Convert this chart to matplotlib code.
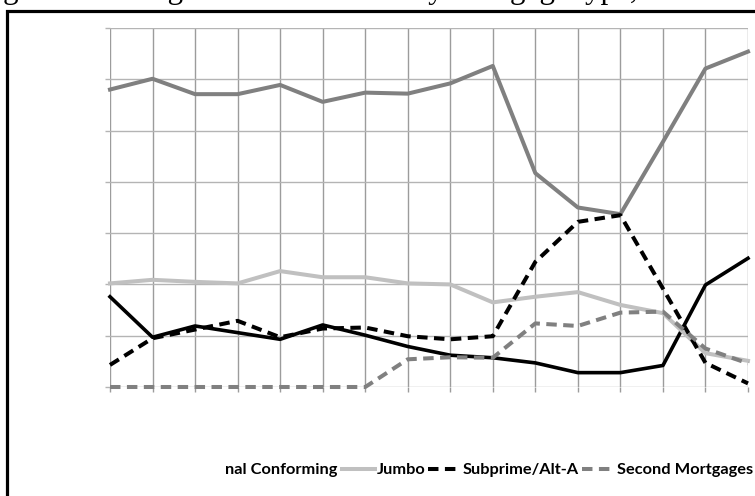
# Share of mortgage originations by mortgage type, 1995-2010
# (recreation of a cropped Excel-style line chart)

import matplotlib
matplotlib.use('Agg')
import matplotlib.pyplot as plt
from matplotlib.patches import Rectangle

# ── Data ─────────────────────────────────────────────────────

# years: one category per vertical gridline
years = list(range(1995, 2011))

# government-backed loans (black solid line, legend entry cut off)
government = [1.76, 0.97, 1.19, 1.06, 0.93, 1.21, 1.01, 0.79,
              0.62, 0.57, 0.47, 0.28, 0.28, 0.42, 1.99, 2.51]

# traditional conforming loans (dark gray line)
conforming = [5.80, 6.01, 5.71, 5.71, 5.89, 5.56, 5.74, 5.72,
              5.92, 6.26, 4.17, 3.50, 3.37, 4.78, 6.21, 6.54]

# jumbo loans (light gray line)
jumbo = [2.02, 2.09, 2.05, 2.02, 2.26, 2.14, 2.14, 2.02,
         2.00, 1.65, 1.76, 1.85, 1.60, 1.44, 0.66, 0.51]

# subprime / Alt-A loans (black dashed line)
subprime = [0.43, 0.95, 1.12, 1.29, 0.97, 1.14, 1.16, 0.99,
            0.93, 0.99, 2.44, 3.22, 3.35, 1.92, 0.47, 0.07]

# second mortgages (gray dashed line)
second = [0.00, 0.00, 0.00, 0.00, 0.00, 0.00, 0.00, 0.54,
          0.58, 0.57, 1.24, 1.19, 1.45, 1.47, 0.75, 0.46]

# y gridlines (the value labels are cut off in the source)
y_ticks = list(range(0, 8))

# ── Figure ───────────────────────────────────────────────────

W, H = 755, 496
fig = plt.figure(figsize=(W / 100, H / 100), dpi=100)
fig.patch.set_facecolor('white')

# caption of the document, only its descenders show at the top edge
fig.text(-222 / W, 1 + 2 / H,
         'Figure 3. Changing share of originations in dollars by mortgage type, 1995–2010',
         family='Liberation Serif', fontsize=22.3, ha='left', va='baseline',
         color='black')

# thick black frame round the chart object (runs off right and bottom)
fig.patches.append(Rectangle((6.5 / W, -0.1), 2.0, 1 - 11 / H + 0.1,
                             transform=fig.transFigure, fill=False,
                             ec='black', lw=2.3))

# plot area
ax = fig.add_axes([110 / W, 1 - 387 / H, (748 - 110) / W, (387 - 28) / H])
x = list(range(len(years)))

l_gov, = ax.plot(x, government, color='black', lw=2.6, clip_on=False)
l_conf, = ax.plot(x, conforming, color='#808080', lw=2.9, clip_on=False)
l_jumbo, = ax.plot(x, jumbo, color='#c0c0c0', lw=2.9, clip_on=False)
l_sub, = ax.plot(x, subprime, color='black', lw=2.9, dashes=(2.6, 1.6),
                 dash_capstyle='butt', clip_on=False)
l_sec, = ax.plot(x, second, color='#808080', lw=2.9, dashes=(2.6, 1.6),
                 dash_capstyle='butt', clip_on=False)

ax.set_xlim(0, len(years) - 1)
ax.set_ylim(y_ticks[0], y_ticks[-1])
ax.set_xticks(x)
ax.set_yticks(y_ticks)
ax.set_xticklabels([])
ax.set_yticklabels([])

# gridlines and outward tick marks in gray, no spines
ax.grid(axis='y', color='#b4b4b4', lw=1.0)
ax.grid(axis='x', color='#9c9c9c', lw=1.0)
ax.set_axisbelow(True)
ax.tick_params(axis='x', direction='out', length=3.8, width=1.0, color='#9c9c9c')
ax.tick_params(axis='y', direction='out', length=3.8, width=1.0, color='#b4b4b4')
for s in ax.spines.values():
    s.set_visible(False)

# ── Legend (left part cut off in the source) ─────────────────

legend_font = dict(family=['Lato', 'DejaVu Sans'], weight='bold', size=11.8)

fig.text(225 / W, 1 - 470 / H, 'nal Conforming', ha='left', va='center',
         fontdict=legend_font)

fig.legend([l_jumbo, l_sub, l_sec], ['Jumbo', 'Subprime/Alt-A', 'Second Mortgages'],
           loc='center left', bbox_to_anchor=(342 / W, 1 - 470 / H),
           ncol=3, frameon=False, borderpad=0, borderaxespad=0,
           handlelength=2.0, handletextpad=0.1, columnspacing=0.2,
           prop=legend_font)

fig.savefig('out.png', dpi=100)
